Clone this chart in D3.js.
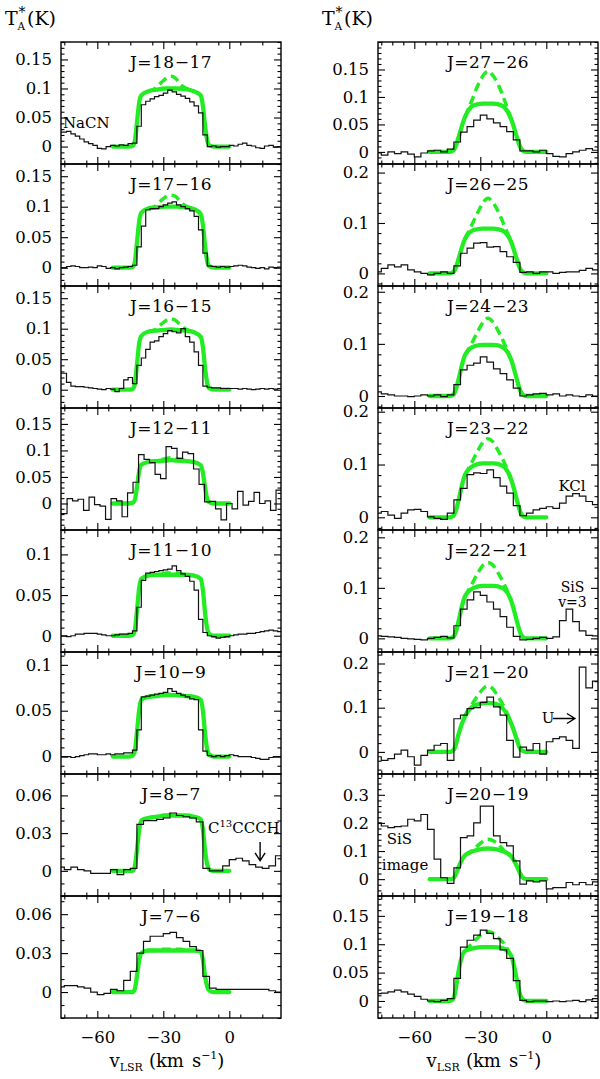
<!DOCTYPE html>
<html>
<head>
<meta charset="utf-8">
<script src="https://cdn.jsdelivr.net/npm/d3@7"></script>
<style>
  body { margin: 0; background: #fff; }
  svg { display: block; }
</style>
</head>
<body>
<svg id="chart" width="600" height="1079"></svg>
<script>
// --- Data: transitions ---
const namesLeft = ["J=18\u221217", "J=17\u221216", "J=16\u221215", "J=12\u221211", "J=11\u221210", "J=10\u22129", "J=8\u22127", "J=7\u22126"];
const namesRight = ["J=27\u221226", "J=26\u221225", "J=24\u221223", "J=23\u221222", "J=22\u221221", "J=21\u221220", "J=20\u221219", "J=19\u221218"];

// channel grid (first channel centre, width in km/s)
const chanStartLeft = [-75, -75, -75, -75, -75, -75, -76.5, -76.5];
const chanWidthLeft = [2, 2, 2, 2.5, 2, 2, 3, 3];
const chanStartRight = [-76.5, -76.5, -76.5, -76.5, -76.5, -76.5, -76.5, -76.5];
const chanWidthRight = [3, 3, 3, 3, 3, 3, 3, 3];

// --- Observed spectra (K) ---
const obs18_17 = [0.025, 0.026, 0.022, 0.018, 0.013, 0.008, 0.005, 0.002, -0.003, -0.004, 0.0, 0.002, 0.001, 0.003, 0.002, 0.005, 0.006, 0.035, 0.072, 0.078, 0.082, 0.086, 0.088, 0.092, 0.097, 0.094, 0.09, 0.087, 0.083, 0.077, 0.07, 0.058, 0.02, 0.0, 0.001, -0.001, 0.0, 0.0, 0.002, 0.001, 0.004, 0.006, 0.002, 0.001, -0.002, -0.003, 0.001, 0.002, -0.001, 0.0];
const obs17_16 = [0.0, 0.002, 0.003, 0.002, 0.0, 0.0, 0.001, 0.0, 0.003, 0.002, -0.001, 0.0, -0.002, 0.0, 0.001, 0.002, 0.004, 0.034, 0.068, 0.095, 0.097, 0.097, 0.1, 0.103, 0.106, 0.108, 0.103, 0.1, 0.097, 0.093, 0.084, 0.062, 0.024, 0.003, 0.002, 0.001, 0.002, 0.001, 0.002, 0.003, 0.004, 0.003, 0.001, 0.0, -0.001, 0.0, -0.002, 0.001, 0.0, 0.001];
const obs16_15 = [0.027, 0.012, 0.006, 0.005, 0.005, 0.004, 0.003, 0.002, 0.001, 0.0, 0.002, 0.001, -0.003, 0.002, 0.016, 0.02, 0.01, 0.04, 0.052, 0.066, 0.078, 0.08, 0.087, 0.092, 0.097, 0.095, 0.093, 0.1, 0.087, 0.078, 0.062, 0.04, 0.006, 0.004, 0.003, 0.003, 0.002, 0.002, 0.002, 0.002, 0.001, 0.002, 0.001, 0.0, 0.001, 0.002, 0.001, 0.002, 0.001, 0.002];
const obs12_11 = [-0.019, 0.009, 0.005, 0.008, -0.013, 0.012, -0.002, -0.005, -0.03, 0.009, 0.005, -0.025, 0.02, 0.04, 0.092, 0.083, 0.077, 0.055, 0.047, 0.107, 0.104, 0.085, 0.097, 0.094, 0.065, 0.036, 0.003, 0.004, -0.01, -0.031, 0.0, -0.01, 0.023, -0.003, 0.004, 0.021, 0.0, 0.005, -0.013, 0.025];
const obs11_10 = [0.0, -0.001, 0.0, 0.002, 0.002, 0.003, 0.003, 0.003, 0.002, 0.001, 0.0, 0.0, 0.001, 0.002, 0.002, 0.003, 0.006, 0.035, 0.068, 0.077, 0.078, 0.079, 0.08, 0.081, 0.082, 0.086, 0.08, 0.076, 0.073, 0.067, 0.056, 0.02, 0.004, 0.0, -0.001, -0.003, -0.002, -0.001, 0.0, 0.001, 0.002, 0.002, 0.003, 0.003, 0.004, 0.005, 0.006, 0.007, 0.006, 0.005];
const obs10_9 = [0.0, 0.0, -0.001, 0.0, 0.001, 0.002, 0.003, 0.003, 0.002, 0.002, 0.003, 0.002, 0.003, 0.003, 0.004, 0.004, 0.007, 0.029, 0.065, 0.066, 0.067, 0.068, 0.069, 0.07, 0.074, 0.071, 0.069, 0.067, 0.065, 0.063, 0.062, 0.029, 0.006, 0.001, 0.0, 0.001, 0.0, 0.001, 0.002, 0.001, 0.0, 0.0, 0.0, -0.001, -0.002, -0.003, -0.003, -0.001, 0.0, 0.0];
const obs8_7 = [0.003, 0.001, 0.003, 0.001, 0.0, -0.002, -0.002, -0.002, 0.001, -0.003, 0.001, 0.002, 0.037, 0.04, 0.04, 0.041, 0.042, 0.046, 0.044, 0.043, 0.042, 0.039, 0.002, 0.0, 0.0, 0.004, 0.009, 0.01, 0.008, 0.005, 0.003, 0.002, 0.004, 0.012];
const obs7_6 = [0.004, 0.005, 0.005, 0.004, 0.003, 0.0, -0.002, -0.001, 0.002, 0.001, 0.009, 0.016, 0.03, 0.039, 0.043, 0.043, 0.045, 0.046, 0.042, 0.039, 0.035, 0.032, 0.012, 0.003, 0.002, 0.002, 0.002, 0.002, 0.002, 0.002, 0.002, 0.002, 0.001, 0.0];

const obs27_26 = [-0.002, -0.006, 0.0, -0.003, 0.0, -0.004, -0.009, -0.002, 0.002, 0.003, 0.0, 0.005, 0.018, 0.036, 0.046, 0.058, 0.067, 0.06, 0.053, 0.046, 0.037, 0.022, 0.002, 0.002, 0.0, 0.003, -0.003, -0.008, -0.009, -0.003, 0.0, 0.003, 0.006, 0.003];
const obs26_25 = [0.003, 0.01, 0.017, 0.013, 0.017, 0.007, 0.003, 0.0, -0.003, 0.0, 0.003, 0.0, 0.015, 0.04, 0.05, 0.06, 0.061, 0.052, 0.053, 0.043, 0.033, 0.022, 0.002, 0.003, 0.0, 0.003, 0.003, 0.0, 0.002, 0.003, 0.003, 0.006, 0.01, 0.007];
const obs24_23 = [0.008, 0.004, 0.002, 0.0, 0.0, -0.001, 0.0, 0.002, 0.0, 0.002, -0.001, 0.002, 0.022, 0.05, 0.059, 0.063, 0.075, 0.065, 0.052, 0.043, 0.031, 0.015, 0.0, 0.002, 0.004, 0.005, 0.002, 0.004, 0.0, 0.002, 0.0, -0.001, 0.002, 0.0];
const obs23_22 = [0.008, 0.011, 0.004, -0.002, 0.008, 0.014, 0.015, 0.011, 0.001, -0.002, -0.004, 0.008, 0.033, 0.055, 0.081, 0.084, 0.083, 0.09, 0.075, 0.059, 0.046, 0.022, 0.003, 0.008, 0.014, 0.017, 0.02, 0.017, 0.027, 0.04, 0.045, 0.04, 0.03, 0.024];
const obs22_21 = [0.005, 0.004, 0.003, 0.002, 0.0, -0.001, -0.002, -0.003, 0.0, 0.002, 0.004, 0.001, 0.025, 0.058, 0.076, 0.092, 0.085, 0.072, 0.058, 0.043, 0.022, 0.004, -0.003, -0.002, 0.0, 0.002, 0.0, 0.003, 0.035, 0.058, 0.033, 0.015, 0.006, 0.005];
const obs21_20 = [-0.011, -0.019, -0.015, -0.005, 0.004, -0.011, -0.03, -0.008, 0.004, 0.015, 0.019, -0.019, 0.075, 0.083, 0.098, 0.1, 0.112, 0.124, 0.102, 0.083, 0.026, -0.012, 0.011, 0.004, 0.019, -0.005, 0.023, 0.03, 0.034, 0.026, 0.008, 0.192, 0.145, 0.16];
const obs20_19 = [0.2, 0.189, 0.183, 0.187, 0.189, 0.213, 0.207, 0.23, 0.177, 0.071, 0.005, -0.015, 0.04, 0.148, 0.154, 0.2, 0.26, 0.26, 0.154, 0.13, 0.118, 0.065, -0.018, -0.006, -0.01, -0.006, -0.035, -0.03, -0.03, -0.012, -0.02, -0.012, -0.02, -0.01];
const obs19_18 = [0.013, 0.014, 0.016, 0.019, 0.016, 0.012, 0.008, 0.003, 0.0, -0.001, 0.001, 0.004, 0.04, 0.095, 0.107, 0.116, 0.125, 0.119, 0.11, 0.09, 0.075, 0.036, 0.001, -0.001, 0.0, 0.0, -0.001, 0.0, -0.001, 0.0, 0.001, -0.001, 0.002, 0.004];

// --- Model profiles (solid: fit, dashed: second model) ---
const modelV = [-53, -46, -44, -43, -42, -41, -40, -37, -33, -29, -26.5, -24, -20, -16, -13, -12, -11, -10, -9, -7, 0];
const dashV = [-37, -34, -31, -28.5, -26.5, -24.5, -22, -19, -16];

const fit18_17 = [0, 0, 0.001, 0.008, 0.04, 0.075, 0.088, 0.095, 0.098, 0.1, 0.1, 0.1, 0.099, 0.095, 0.088, 0.07, 0.035, 0.01, 0.002, 0, 0];
const fit17_16 = [0, 0, 0.001, 0.008, 0.04, 0.075, 0.09, 0.097, 0.099, 0.1, 0.1, 0.1, 0.099, 0.096, 0.088, 0.07, 0.035, 0.01, 0.002, 0, 0];
const fit16_15 = [0, 0, 0.001, 0.008, 0.04, 0.075, 0.088, 0.095, 0.097, 0.098, 0.099, 0.098, 0.097, 0.094, 0.087, 0.07, 0.035, 0.01, 0.002, 0, 0];
const fit12_11 = [0, 0, 0.001, 0.006, 0.03, 0.06, 0.073, 0.078, 0.08, 0.081, 0.082, 0.081, 0.08, 0.078, 0.072, 0.058, 0.03, 0.008, 0.002, 0, 0];
const fit11_10 = [0, 0, 0.001, 0.006, 0.03, 0.058, 0.07, 0.074, 0.075, 0.075, 0.075, 0.075, 0.075, 0.074, 0.07, 0.056, 0.028, 0.008, 0.002, 0, 0];
const fit10_9 = [0, 0, 0.001, 0.005, 0.026, 0.05, 0.062, 0.065, 0.066, 0.067, 0.067, 0.067, 0.066, 0.065, 0.062, 0.05, 0.025, 0.007, 0.002, 0, 0];
const fit8_7 = [0, 0, 0, 0.003, 0.016, 0.032, 0.04, 0.042, 0.043, 0.044, 0.044, 0.044, 0.044, 0.043, 0.041, 0.033, 0.016, 0.005, 0.001, 0, 0];
const fit7_6 = [0, 0, 0, 0.002, 0.012, 0.024, 0.03, 0.032, 0.032, 0.032, 0.032, 0.032, 0.032, 0.032, 0.031, 0.025, 0.012, 0.004, 0.001, 0, 0];
const fit27_26 = [0, 0, 0, 0.001, 0.004, 0.012, 0.025, 0.063, 0.085, 0.088, 0.088, 0.088, 0.084, 0.06, 0.022, 0.01, 0.004, 0.001, 0, 0, 0];
const fit26_25 = [0, 0, 0, 0.001, 0.004, 0.012, 0.027, 0.068, 0.086, 0.089, 0.089, 0.089, 0.085, 0.063, 0.022, 0.01, 0.004, 0.001, 0, 0, 0];
const fit24_23 = [0, 0, 0, 0.001, 0.004, 0.014, 0.03, 0.078, 0.095, 0.098, 0.098, 0.098, 0.094, 0.07, 0.026, 0.012, 0.004, 0.001, 0, 0, 0];
const fit23_22 = [0, 0, 0, 0.001, 0.004, 0.014, 0.03, 0.08, 0.098, 0.102, 0.102, 0.102, 0.098, 0.072, 0.027, 0.012, 0.004, 0.001, 0, 0, 0];
const fit22_21 = [0, 0, 0, 0.001, 0.004, 0.015, 0.032, 0.083, 0.1, 0.104, 0.104, 0.104, 0.1, 0.075, 0.028, 0.013, 0.004, 0.001, 0, 0, 0];
const fit21_20 = [0, 0, 0, 0.001, 0.005, 0.018, 0.038, 0.08, 0.104, 0.11, 0.111, 0.11, 0.1, 0.065, 0.022, 0.008, 0.003, 0.001, 0, 0, 0];
const fit20_19 = [0, 0, 0, 0, 0.005, 0.02, 0.04, 0.085, 0.1, 0.108, 0.109, 0.108, 0.1, 0.082, 0.04, 0.022, 0.008, 0.002, 0, 0, 0];
const fit19_18 = [0, 0, 0, 0.001, 0.006, 0.025, 0.05, 0.088, 0.093, 0.095, 0.095, 0.095, 0.093, 0.08, 0.03, 0.012, 0.004, 0.001, 0, 0, 0];

const dash18_17 = [0.095, 0.099, 0.11, 0.118, 0.121, 0.118, 0.106, 0.099, 0.095];
const dash17_16 = [0.097, 0.1, 0.11, 0.117, 0.119, 0.117, 0.107, 0.1, 0.096];
const dash16_15 = [0.095, 0.098, 0.107, 0.114, 0.116, 0.114, 0.105, 0.098, 0.094];
const dash12_11 = [0.078, 0.08, 0.083, 0.085, 0.086, 0.085, 0.083, 0.08, 0.078];
const dash11_10 = [0.074, 0.075, 0.076, 0.077, 0.077, 0.077, 0.076, 0.075, 0.074];
const dash10_9 = [0.065, 0.066, 0.067, 0.068, 0.068, 0.068, 0.067, 0.066, 0.065];
const dash8_7 = [0.042, 0.043, 0.044, 0.044, 0.045, 0.044, 0.044, 0.043, 0.043];
const dash7_6 = [0.032, 0.032, 0.033, 0.033, 0.033, 0.033, 0.033, 0.032, 0.032];
const dash27_26 = [0.063, 0.092, 0.122, 0.14, 0.147, 0.14, 0.124, 0.094, 0.06];
const dash26_25 = [0.068, 0.095, 0.122, 0.142, 0.149, 0.142, 0.124, 0.094, 0.063];
const dash24_23 = [0.078, 0.1, 0.125, 0.143, 0.149, 0.143, 0.126, 0.1, 0.07];
const dash23_22 = [0.08, 0.103, 0.127, 0.144, 0.149, 0.144, 0.127, 0.103, 0.072];
const dash22_21 = [0.083, 0.106, 0.13, 0.146, 0.15, 0.146, 0.13, 0.106, 0.075];
const dash21_20 = [0.08, 0.106, 0.128, 0.144, 0.149, 0.144, 0.126, 0.1, 0.065];
const dash20_19 = [0.085, 0.1, 0.12, 0.136, 0.142, 0.138, 0.125, 0.1, 0.082];
const dash19_18 = [0.088, 0.1, 0.112, 0.12, 0.122, 0.12, 0.112, 0.1, 0.08];

// --- Axes ---
const xDomain = [-76.5, 23.5];
const xMajor = [-60, -30, 0];
const yDomLeft = [[-0.03, 0.18], [-0.03, 0.17], [-0.03, 0.17], [-0.05, 0.18], [-0.02, 0.13], [-0.019, 0.114], [-0.02, 0.077], [-0.02, 0.074]];
const yDomRight = [[-0.022, 0.2], [-0.025, 0.217], [-0.023, 0.211], [-0.024, 0.207], [-0.027, 0.2145], [-0.05, 0.226], [-0.06, 0.374], [-0.03, 0.185]];
const yTicksLeft = [[0, 0.05, 0.1, 0.15], [0, 0.05, 0.1, 0.15], [0, 0.05, 0.1, 0.15], [0, 0.05, 0.1, 0.15], [0, 0.05, 0.1], [0, 0.05, 0.1], [0, 0.03, 0.06], [0, 0.03, 0.06]];
const yTicksRight = [[0, 0.05, 0.1, 0.15], [0, 0.1, 0.2], [0, 0.1, 0.2], [0, 0.1, 0.2], [0, 0.1, 0.2], [0, 0.1, 0.2], [0, 0.1, 0.2, 0.3], [0, 0.05, 0.1, 0.15]];
const yMinorLeft = [0.01, 0.01, 0.01, 0.01, 0.01, 0.01, 0.01, 0.01];
const yMinorRight = [0.01, 0.02, 0.02, 0.02, 0.02, 0.02, 0.02, 0.01];

// --- Layout ---
const svg = d3.select("#chart");
const fontFam = "'DejaVu Serif', serif";
const colX = [61, 378];
const plotW = 220, plotTop = 42, panelH = 122;
const green = "#22ec22";
const fmt = d3.format("~g");

const columns = [
  { names: namesLeft,
    obs: [obs18_17, obs17_16, obs16_15, obs12_11, obs11_10, obs10_9, obs8_7, obs7_6],
    fit: [fit18_17, fit17_16, fit16_15, fit12_11, fit11_10, fit10_9, fit8_7, fit7_6],
    dash: [dash18_17, dash17_16, dash16_15, dash12_11, dash11_10, dash10_9, dash8_7, dash7_6],
    yDom: yDomLeft, yTicks: yTicksLeft, yMinor: yMinorLeft,
    c0: chanStartLeft, dv: chanWidthLeft, xMinorStep: 10 },
  { names: namesRight,
    obs: [obs27_26, obs26_25, obs24_23, obs23_22, obs22_21, obs21_20, obs20_19, obs19_18],
    fit: [fit27_26, fit26_25, fit24_23, fit23_22, fit22_21, fit21_20, fit20_19, fit19_18],
    dash: [dash27_26, dash26_25, dash24_23, dash23_22, dash22_21, dash21_20, dash20_19, dash19_18],
    yDom: yDomRight, yTicks: yTicksRight, yMinor: yMinorRight,
    c0: chanStartRight, dv: chanWidthRight, xMinorStep: 5 }
];

const scales = [[], []];

function tickAxis(axis, vals, size, labels) {
  return axis.tickValues(vals).tickSizeInner(-size).tickSizeOuter(0).tickFormat(labels ? fmt : "");
}

function styleAxis(sel) {
  sel.attr("font-family", fontFam).attr("font-size", 16.5);
  sel.select(".domain").remove();
  sel.selectAll(".tick line").attr("stroke-width", 1.1);
}

columns.forEach((c, col) => {
  const x0 = colX[col];
  const x = d3.scaleLinear().domain(xDomain).range([x0, x0 + plotW]);
  const xMinor = d3.range(-75, 24, c.xMinorStep).filter(v => v % 30 !== 0);

  c.names.forEach((name, row) => {
    const top = plotTop + row * panelH, bot = top + panelH;
    const y = d3.scaleLinear().domain(c.yDom[row]).range([bot, top]);
    scales[col][row] = { x, y };
    const g = svg.append("g");

    const clipId = `clip-${col}-${row}`;
    g.append("clipPath").attr("id", clipId).append("rect")
      .attr("x", x0).attr("y", top).attr("width", plotW).attr("height", panelH);
    const plot = g.append("g").attr("clip-path", `url(#${clipId})`);

    // model fits
    const fitLine = d3.line().x((d, i) => x(modelV[i])).y(d => y(d)).curve(d3.curveMonotoneX);
    plot.append("path").attr("d", fitLine(c.fit[row]))
      .attr("fill", "none").attr("stroke", green).attr("stroke-width", 4.3)
      .attr("stroke-linejoin", "round").attr("stroke-linecap", "round");
    const dashLine = d3.line().x((d, i) => x(dashV[i])).y(d => y(d)).curve(d3.curveMonotoneX);
    plot.append("path").attr("d", dashLine(c.dash[row]))
      .attr("fill", "none").attr("stroke", green).attr("stroke-width", 3.5)
      .attr("stroke-dasharray", "9,5");

    // observed histogram
    const obs = c.obs[row], v0 = c.c0[row], dv = c.dv[row];
    const pts = obs.map((t, i) => [v0 + (i - 0.5) * dv, t]);
    pts[0][0] = Math.min(pts[0][0], xDomain[0] - 1);
    pts.push([Math.max(v0 + (obs.length - 0.5) * dv, xDomain[1] + 1), obs[obs.length - 1]]);
    plot.append("path")
      .attr("d", d3.line().x(d => x(d[0])).y(d => y(d[1])).curve(d3.curveStepAfter)(pts))
      .attr("fill", "none").attr("stroke", "#111").attr("stroke-width", 1.2);

    // y ticks
    const yMaj = c.yTicks[row];
    const st = c.yMinor[row];
    const [lo, hi] = c.yDom[row];
    const yMin = d3.range(Math.ceil(lo / st - 1e-6), Math.floor(hi / st + 1e-6) + 1)
      .map(k => +(k * st).toFixed(4))
      .filter(v => !yMaj.some(m => Math.abs(m - v) < 1e-6));

    g.append("g").attr("transform", `translate(${x0},0)`)
      .call(tickAxis(d3.axisLeft(y), yMaj, 7, true).tickPadding(9)).call(styleAxis);
    g.append("g").attr("transform", `translate(${x0},0)`)
      .call(tickAxis(d3.axisLeft(y), yMin, 3.5, false)).call(styleAxis);
    g.append("g").attr("transform", `translate(${x0 + plotW},0)`)
      .call(tickAxis(d3.axisRight(y), yMaj, 7, false)).call(styleAxis);
    g.append("g").attr("transform", `translate(${x0 + plotW},0)`)
      .call(tickAxis(d3.axisRight(y), yMin, 3.5, false)).call(styleAxis);

    // x ticks
    const lastRow = row === c.names.length - 1;
    g.append("g").attr("transform", `translate(0,${bot})`)
      .call(tickAxis(d3.axisBottom(x), xMajor, 7, lastRow).tickPadding(13)).call(styleAxis);
    g.append("g").attr("transform", `translate(0,${bot})`)
      .call(tickAxis(d3.axisBottom(x), xMinor, 3.5, false)).call(styleAxis);
    g.append("g").attr("transform", `translate(0,${top})`)
      .call(tickAxis(d3.axisTop(x), xMajor, 7, false)).call(styleAxis);
    g.append("g").attr("transform", `translate(0,${top})`)
      .call(tickAxis(d3.axisTop(x), xMinor, 3.5, false)).call(styleAxis);

    // frame
    g.append("rect").attr("x", x0).attr("y", top).attr("width", plotW).attr("height", panelH)
      .attr("fill", "none").attr("stroke", "#000").attr("stroke-width", 1.4);

    // transition label
    g.append("text").attr("x", x0 + plotW / 2).attr("y", top + 26)
      .attr("text-anchor", "middle").attr("font-family", fontFam).attr("font-size", 17)
      .attr("letter-spacing", 0.5)
      .text(name);
  });

  // y title  T_A*(K)
  const tx = x0 - 56;
  const title = svg.append("g").attr("font-family", fontFam);
  title.append("text").attr("x", tx).attr("y", 25).attr("font-size", 19).text("T");
  title.append("text").attr("x", tx + 12.5).attr("y", 29.5).attr("font-size", 10.5).text("A");
  title.append("text").attr("x", tx + 13.5).attr("y", 17).attr("font-size", 14).text("*");
  title.append("text").attr("x", tx + 22).attr("y", 25).attr("font-size", 19).text("(K)");

  // x title  v_LSR (km s^-1)
  const xt = svg.append("text").attr("x", x0 + plotW / 2 - 4).attr("y", 1067)
    .attr("text-anchor", "middle").attr("font-family", fontFam).attr("font-size", 18);
  xt.append("tspan").text("v");
  xt.append("tspan").attr("font-size", 11).attr("dy", 4).text("LSR");
  xt.append("tspan").attr("dy", -4).attr("dx", 6).text("(km");
  xt.append("tspan").attr("dx", 8).text("s");
  xt.append("tspan").attr("font-size", 11).attr("dy", -8).text("\u22121");
  xt.append("tspan").attr("dy", 8).text(")");
});

// --- Annotations ---
function note(col, row, v, t, str, anchor) {
  const s = scales[col][row];
  return svg.append("text").attr("x", s.x(v)).attr("y", s.y(t))
    .attr("text-anchor", anchor || "start").attr("font-family", fontFam).attr("font-size", 15)
    .text(str);
}

note(0, 0, -75.6, 0.032, "NaCN");

const c13 = note(0, 6, -9.7, 0.030, "C");
c13.append("tspan").attr("font-size", 10).attr("dy", -6).text("13");
c13.append("tspan").attr("dy", 6).text("CCCH");
{
  const s = scales[0][6];
  const ax = s.x(14), ay1 = s.y(0.023), ay2 = s.y(0.008);
  svg.append("path")
    .attr("d", `M${ax},${ay1}L${ax},${ay2}M${ax - 5},${ay2 - 8}L${ax},${ay2}L${ax + 5},${ay2 - 8}`)
    .attr("fill", "none").attr("stroke", "#000").attr("stroke-width", 1.4);
}

note(1, 3, 5.5, 0.049, "KCl");
note(1, 4, 11.9, 0.092, "SiS", "middle").attr("font-size", 14);
note(1, 4, 11.9, 0.063, "v=3", "middle").attr("font-size", 14);

note(1, 5, -2.1, 0.066, "U");
{
  const s = scales[1][5];
  const ax1 = s.x(3), ax2 = s.x(13), ay = s.y(0.0755);
  svg.append("path")
    .attr("d", `M${ax1},${ay}L${ax2},${ay}M${ax2 - 8},${ay - 5}L${ax2},${ay}L${ax2 - 8},${ay + 5}`)
    .attr("fill", "none").attr("stroke", "#000").attr("stroke-width", 1.4);
}

note(1, 6, -66.8, 0.124, "SiS", "middle");
note(1, 6, -64.2, 0.032, "image", "middle");
</script>
</body>
</html>
